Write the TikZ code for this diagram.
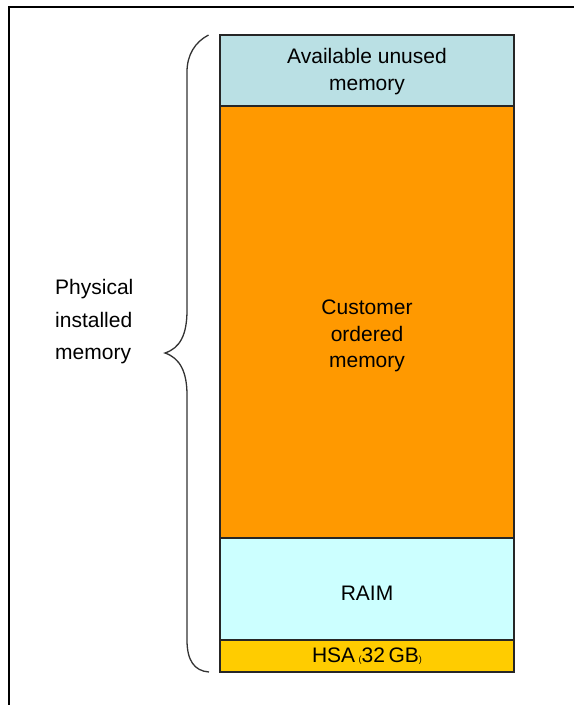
\documentclass[tikz,border=0pt]{standalone}
\usepackage{fontspec}
\setmainfont{Liberation Sans}
\usetikzlibrary{positioning}
\definecolor{availblue}{HTML}{BAE0E4}
\definecolor{custorange}{HTML}{FF9900}
\definecolor{raimcyan}{HTML}{CCFFFF}
\definecolor{hsagold}{HTML}{FFCC00}
\tikzset{
  seg/.style={draw=black!85, line width=1.2pt, minimum width=294pt, inner sep=0pt, outer sep=0pt},
  lbl/.style={font=\fontsize{21}{26.5}\selectfont, align=center, inner sep=0pt},
}
\newcommand{\smallparen}[1]{{\fontsize{9}{9}\selectfont #1}}

\begin{document}
\begin{tikzpicture}[x=1pt, y=-1pt]
			%%%%% FRAME %%%%%
			\useasboundingbox (0, 0) rectangle (574, 705);
			\draw[line width=1.5pt] (9, 705) -- (9, 7) -- (574, 7);
			
			%%%%% MEMORY COLUMN %%%%%
			\node[seg, fill=availblue, minimum height=71pt, anchor=north] (avail) at (367, 35) {};
			\node[seg, fill=custorange, minimum height=432pt, below=0pt of avail] (cust) {};
			\node[seg, fill=raimcyan, minimum height=102pt, below=0pt of cust] (raim) {};
			\node[seg, fill=hsagold, minimum height=32pt, below=0pt of raim] (hsa) {};
			
			\node[lbl] (availtext) at ([yshift=-1pt]avail.center) {Available unused\\memory};
			\node[lbl] (custtext) at ([yshift=-14pt]cust.center) {Customer\\ordered\\memory};
			\node[lbl] (raimtext) at ([yshift=-4pt]raim.center) {RAIM};
			\node[lbl] (hsatext) at (hsa.center) {HSA\,\smallparen{(}32\,GB\smallparen{)}};
			
			%%%%% BRACE %%%%%
			\coordinate (bracetop) at (208.5, 35);
			\coordinate (bracetip) at (165, 353);
			\coordinate (bracebot) at (209, 672);
			\draw[line width=1.3pt, black!80]
			  (bracetop) .. controls (195, 42) and (187, 55) .. (187, 72)
			  -- (187, 310) .. controls (187, 335) and (180, 348) .. (bracetip)
			  .. controls (180, 358) and (187, 372) .. (187, 395)
			  -- (187, 640) .. controls (187, 660) and (194, 671) .. (bracebot);
			
			\node[lbl, align=left, anchor=west, font=\fontsize{21}{32.5}\selectfont] (physical) at (55, 322) {Physical\\installed\\memory};
\end{tikzpicture}
\end{document}
